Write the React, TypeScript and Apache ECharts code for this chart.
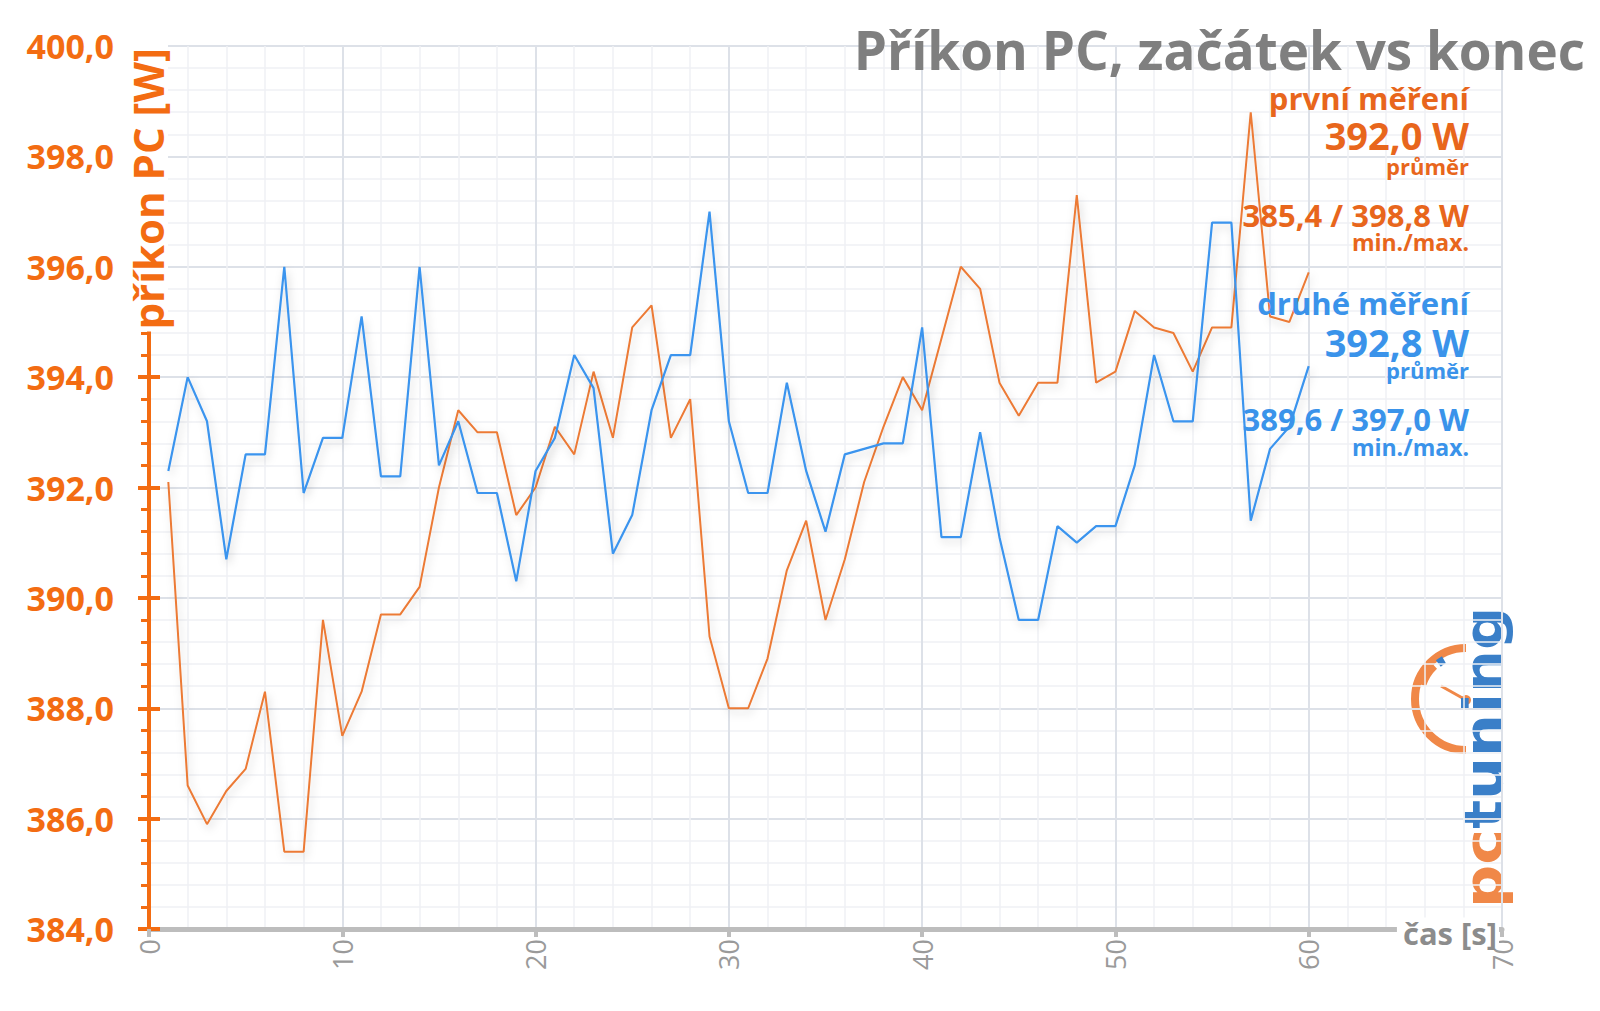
import React, { useEffect, useRef } from "react";
import * as echarts from "echarts";

// time [s]
const seconds = [
  1, 2, 3, 4, 5, 6, 7, 8, 9, 10, 11, 12, 13, 14, 15, 16, 17, 18, 19, 20,
  21, 22, 23, 24, 25, 26, 27, 28, 29, 30, 31, 32, 33, 34, 35, 36, 37, 38, 39, 40,
  41, 42, 43, 44, 45, 46, 47, 48, 49, 50, 51, 52, 53, 54, 55, 56, 57, 58, 59, 60,
];

// první měření [W]
const prvniMereni = [
  392.1, 386.6, 385.9, 386.5, 386.9, 388.3, 385.4, 385.4, 389.6, 387.5,
  388.3, 389.7, 389.7, 390.2, 392.0, 393.4, 393.0, 393.0, 391.5, 392.0,
  393.1, 392.6, 394.1, 392.9, 394.9, 395.3, 392.9, 393.6, 389.3, 388.0,
  388.0, 388.9, 390.5, 391.4, 389.6, 390.7, 392.1, 393.1, 394.0, 393.4,
  394.7, 396.0, 395.6, 393.9, 393.3, 393.9, 393.9, 397.3, 393.9, 394.1,
  395.2, 394.9, 394.8, 394.1, 394.9, 394.9, 398.8, 395.1, 395.0, 395.9,
];

// druhé měření [W]
const druheMereni = [
  392.3, 394.0, 393.2, 390.7, 392.6, 392.6, 396.0, 391.9, 392.9, 392.9,
  395.1, 392.2, 392.2, 396.0, 392.4, 393.2, 391.9, 391.9, 390.3, 392.3,
  392.9, 394.4, 393.8, 390.8, 391.5, 393.4, 394.4, 394.4, 397.0, 393.2,
  391.9, 391.9, 393.9, 392.3, 391.2, 392.6, 392.7, 392.8, 392.8, 394.9,
  391.1, 391.1, 393.0, 391.1, 389.6, 389.6, 391.3, 391.0, 391.3, 391.3,
  392.4, 394.4, 393.2, 393.2, 396.8, 396.8, 391.4, 392.7, 393.1, 394.2,
];

const titleText = "Příkon PC, začátek vs konec";
const yAxisName = "příkon PC [W]";
const xAxisName = "čas [s]";
const series1Name = "první měření";
const series1Avg = "392,0 W";
const series1MinMax = "385,4 / 398,8 W";
const series2Name = "druhé měření";
const series2Avg = "392,8 W";
const series2MinMax = "389,6 / 397,0 W";
const avgLabel = "průměr";
const minMaxLabel = "min./max.";
const logoPc = "pc";
const logoTuning = "tuning";

const ORANGE_AXIS = "#F36C12";
const ORANGE_TEXT = "#E8661C";
const ORANGE_LINE = "#EC7A35";
const BLUE_TEXT = "#3A93EA";
const BLUE_LINE = "#3A94EE";
const FONT = "'Open Sans', 'Noto Sans', sans-serif";

export default function App() {
  const ref = useRef<HTMLDivElement>(null);

  useEffect(() => {
    if (!ref.current) return;
    const chart = echarts.init(ref.current, undefined, { renderer: "svg" });

    const fmt = (v: number) => v.toFixed(1).replace(".", ",");
    const annot = (text: string, y: number, size: number, color: string) => ({
      type: "text",
      x: 1469,
      y,
      z: 100,
      style: {
        text,
        fill: color,
        font: `bold ${size}px ${FONT}`,
        align: "right",
        verticalAlign: "middle",
        lineHeight: Math.round(size * 0.85),
      },
    });

    const option: any = {
      animation: false,
      backgroundColor: "#ffffff",
      grid: { left: 149, right: 98, top: 46, bottom: 82, containLabel: false },
      xAxis: {
        type: "value",
        min: 0,
        max: 70,
        interval: 10,
        axisLine: { show: true, onZero: false, lineStyle: { color: "#BDBDBD", width: 5 } },
        axisTick: { show: true, length: 8, lineStyle: { color: "#BDBDBD", width: 4 } },
        axisLabel: {
          rotate: 90,
          color: "#9A9A9A",
          fontSize: 27,
          fontFamily: FONT,
          margin: 10,
        },
        splitLine: { show: true, lineStyle: { color: "#DDE1E8", width: 2 } },
        minorTick: { show: false, splitNumber: 5 },
        minorSplitLine: { show: true, lineStyle: { color: "#EFF1F5", width: 1.5 } },
      },
      yAxis: [
        {
          type: "value",
          min: 384,
          max: 400,
          interval: 2,
          axisLine: { show: true, lineStyle: { color: ORANGE_AXIS, width: 4 } },
          axisTick: { show: true, length: 11, lineStyle: { color: ORANGE_AXIS, width: 4 } },
          minorTick: { show: true, splitNumber: 5, length: 8, lineStyle: { color: ORANGE_AXIS, width: 3 } },
          axisLabel: {
            formatter: fmt,
            color: ORANGE_AXIS,
            fontSize: 34,
            fontWeight: "bold",
            fontFamily: FONT,
            margin: 35,
          },
          splitLine: { show: true, lineStyle: { color: "#DDE1E8", width: 2 } },
          minorSplitLine: { show: true, lineStyle: { color: "#EFF1F5", width: 1.5 } },
        },
        {
          type: "value",
          min: 384,
          max: 400,
          interval: 2,
          position: "left",
          axisLine: { show: false },
          axisTick: { show: true, inside: true, length: 11, lineStyle: { color: ORANGE_AXIS, width: 4 } },
          axisLabel: { show: false },
          splitLine: { show: false },
        },
      ],
      series: [
        {
          type: "line",
          name: series1Name,
          yAxisIndex: 0,
          data: seconds.map((s, i) => [s, prvniMereni[i]]),
          symbol: "none",
          lineStyle: {
            color: ORANGE_LINE,
            width: 2,
            shadowColor: "rgba(0,0,0,0.18)",
            shadowBlur: 8,
            shadowOffsetX: 2,
            shadowOffsetY: 4,
          },
          z: 3,
        },
        {
          type: "line",
          name: series2Name,
          yAxisIndex: 0,
          data: seconds.map((s, i) => [s, druheMereni[i]]),
          symbol: "none",
          lineStyle: {
            color: BLUE_LINE,
            width: 2.2,
            shadowColor: "rgba(0,0,0,0.18)",
            shadowBlur: 8,
            shadowOffsetX: 2,
            shadowOffsetY: 4,
          },
          z: 4,
        },
      ],
      graphic: [
        {
          type: "text",
          x: 1585,
          y: 49,
          z: 100,
          style: {
            text: titleText,
            fill: "#7F7F7F",
            font: `bold 53px ${FONT}`,
            align: "right",
            verticalAlign: "middle",
          },
        },
        {
          type: "text",
          x: 147,
          y: 44,
          rotation: Math.PI / 2,
          z: 100,
          style: {
            text: yAxisName,
            fill: ORANGE_AXIS,
            font: `bold 42px ${FONT}`,
            align: "right",
            verticalAlign: "middle",
            backgroundColor: "#ffffff",
            padding: [0, 4, 0, 2],
          },
        },
        {
          type: "text",
          x: 1499,
          y: 933,
          z: 100,
          style: {
            text: xAxisName,
            fill: "#8C8C8C",
            font: `bold 31px ${FONT}`,
            align: "right",
            verticalAlign: "middle",
            backgroundColor: "#ffffff",
            padding: [0, 2, 0, 6],
          },
        },
        annot(series1Name, 98, 31, ORANGE_TEXT),
        annot(series1Avg, 135, 38, ORANGE_TEXT),
        annot(avgLabel, 166, 22, ORANGE_TEXT),
        annot(series1MinMax, 215, 31, ORANGE_TEXT),
        annot(minMaxLabel, 242, 23, ORANGE_TEXT),
        annot(series2Name, 303, 31, BLUE_TEXT),
        annot(series2Avg, 342, 38, BLUE_TEXT),
        annot(avgLabel, 370, 22, BLUE_TEXT),
        annot(series2MinMax, 419, 31, BLUE_TEXT),
        annot(minMaxLabel, 447, 23, BLUE_TEXT),
        // logo
        {
          type: "group",
          z: 90,
          children: [
            {
              type: "arc",
              shape: { cx: 1466, cy: 699, r: 51, startAngle: Math.PI / 2, endAngle: (3 * Math.PI) / 2, clockwise: true },
              style: { stroke: "#F08848", lineWidth: 8, fill: "none" },
            },
            {
              type: "arc",
              shape: { cx: 1466, cy: 699, r: 46, startAngle: 3.45, endAngle: 3.95, clockwise: true },
              style: { stroke: "#F08848", lineWidth: 8, fill: "none" },
            },
            {
              type: "arc",
              shape: { cx: 1466, cy: 699, r: 45, startAngle: 4.05, endAngle: 4.2, clockwise: true },
              style: { stroke: "#3A7FC8", lineWidth: 8, fill: "none" },
            },
            {
              type: "line",
              shape: { x1: 1466, y1: 700, x2: 1441, y2: 686 },
              style: { stroke: "#F08848", lineWidth: 3 },
            },
            {
              type: "circle",
              shape: { cx: 1466, cy: 700, r: 5 },
              style: { fill: "#F08848" },
            },
            {
              type: "text",
              x: 1484,
              y: 908,
              rotation: Math.PI / 2,
              scaleX: 1.12,
              style: {
                text: `{pc|${logoPc}}{t|${logoTuning}}`,
                align: "left",
                verticalAlign: "middle",
                rich: {
                  pc: { fill: "#F08848", font: `bold 54px 'DejaVu Sans', sans-serif` },
                  t: { fill: "#3A7FC8", font: `bold 54px 'DejaVu Sans', sans-serif` },
                },
              },
            },
          ],
        },
      ],
    };

    chart.setOption(option);
    return () => chart.dispose();
  }, []);

  return (
    <div
      ref={ref}
      style={{ position: "fixed", left: 0, top: 0, width: 1600, height: 1011, background: "#fff" }}
    />
  );
}
